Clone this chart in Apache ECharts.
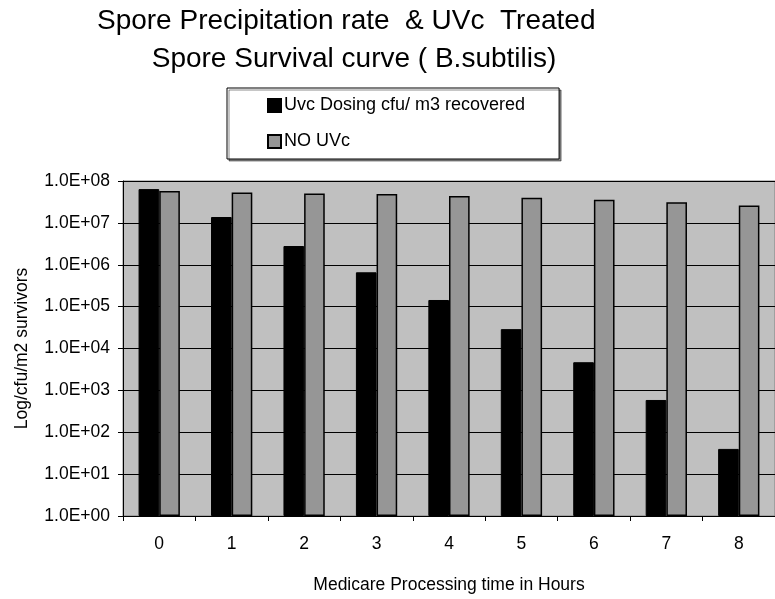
<!DOCTYPE html>
<html><head><meta charset="utf-8">
<script src="https://cdn.jsdelivr.net/npm/echarts@6/dist/echarts.min.js"></script>
<style>html,body{margin:0;padding:0;background:#fff}#c{width:775px;height:599px}</style>
</head><body><div id="c"></div>
<script>
var categories = ['0','1','2','3','4','5','6','7','8'];
var uvcDosing = [6.4e7, 1.38e7, 2.8e6, 6.6e5, 1.44e5, 2.9e4, 4.7e3, 590, 40];
var noUvc = [5.8e7, 5.3e7, 5.0e7, 4.9e7, 4.4e7, 4.0e7, 3.55e7, 3.1e7, 2.6e7];
var seriesNames = ['Uvc Dosing cfu/ m3 recovered', 'NO UVc'];
var titleText = 'Spore Precipitation rate  & UVc  Treated  \nSpore Survival curve ( B.subtilis)';
var yName = 'Log/cfu/m2 survivors';
var xName = 'Medicare Processing time in Hours';

var FONT = 'Liberation Sans, Arial, sans-serif';
var FS = 17.5;
var chart = echarts.init(document.getElementById('c'), null, {renderer: 'canvas'});
function sci(v) {
  var e = Math.round(Math.log10(v));
  return '1.0E' + (e < 0 ? '-' : '+') + (Math.abs(e) < 10 ? '0' : '') + Math.abs(e);
}
chart.setOption({
  animation: false,
  backgroundColor: '#ffffff',
  title: {
    text: titleText, left: 354, top: 2, textAlign: 'center', padding: 0,
    textStyle: {fontFamily: FONT, fontSize: 28, fontWeight: 'normal', color: '#000', lineHeight: 38}
  },
  legend: {
    orient: 'vertical', left: 227, top: 88,
    data: seriesNames,
    icon: 'rect', itemWidth: 13, itemHeight: 13, itemGap: 15,
    borderColor: '#000', borderWidth: 1, padding: [7, 34, 7, 40],
    backgroundColor: '#fff',
    shadowColor: 'rgba(0,0,0,0.45)', shadowOffsetX: 2, shadowOffsetY: 2, shadowBlur: 0,
    textStyle: {fontFamily: FONT, fontSize: 18, color: '#000', padding: [0, 0, 0, -2], lineHeight: 21}
  },
  grid: {left: 123, top: 181, right: -10, bottom: 73, show: true, backgroundColor: '#c0c0c0', borderColor: '#808080', borderWidth: 1},
  xAxis: {
    type: 'category', data: categories,
    name: xName, nameLocation: 'middle', nameGap: 60,
    nameTextStyle: {fontFamily: FONT, fontSize: FS, color: '#000'},
    axisLine: {lineStyle: {color: '#000', width: 1}},
    axisTick: {show: true, alignWithLabel: false, inside: false, length: 5, lineStyle: {color: '#000'}},
    axisLabel: {fontFamily: FONT, fontSize: FS, color: '#000', margin: 19}
  },
  yAxis: {
    type: 'log', logBase: 10, min: 1, max: 1e8,
    name: yName, nameLocation: 'middle', nameGap: 92, nameRotate: 90,
    nameTextStyle: {fontFamily: FONT, fontSize: FS, color: '#000'},
    axisLine: {show: true, lineStyle: {color: '#000', width: 1}},
    axisTick: {show: true, length: 5, lineStyle: {color: '#000'}},
    axisLabel: {fontFamily: FONT, fontSize: FS, color: '#000', margin: 13, formatter: sci},
    splitLine: {show: true, lineStyle: {color: '#000', width: 1}},
    minorTick: {show: false}
  },
  series: [
    {name: seriesNames[0], type: 'bar', data: uvcDosing, barGap: '0%', barCategoryGap: '43%',
     itemStyle: {color: '#000000', borderColor: '#000', borderWidth: 1}},
    {name: seriesNames[1], type: 'bar', data: noUvc, barGap: '0%', barCategoryGap: '43%',
     itemStyle: {color: '#969696', borderColor: '#000', borderWidth: 1.5}}
  ]
});
</script></body></html>
